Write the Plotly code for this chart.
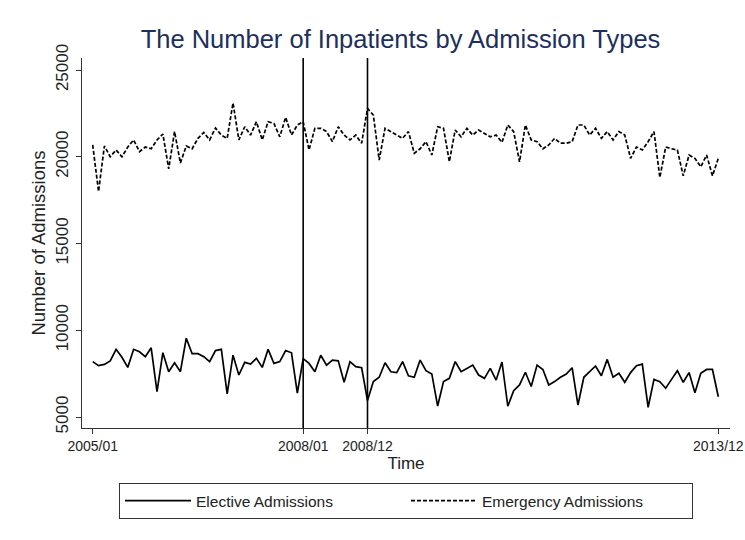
import plotly.graph_objects as go

tick_labels = ["2005/01", "2008/01", "2008/12", "2013/12"]
tick_months = [0, 36, 47, 107]
policy_months = [36, 47]
y_ticks = [5000, 10000, 15000, 20000, 25000]

elective = [8190, 7960, 8030, 8230, 8900, 8440, 7860, 8900, 8760, 8480,
            8990, 6460, 8710, 7610, 8130, 7610, 9540, 8650, 8650, 8480,
            8190, 8830, 8900, 6330, 8560, 7420, 8150, 8050, 8380, 7860,
            8900, 8090, 8190, 8830, 8700, 6370, 8370, 8090, 7610, 8560,
            7990, 8280, 8240, 7000, 8190, 7900, 7840, 5950, 7040, 7290,
            8130, 7610, 7560, 8190, 7370, 7290, 8280, 7670, 7480, 5630,
            7040, 7230, 8190, 7610, 7800, 7990, 7420, 7230, 7800, 7130,
            8170, 5620, 6520, 6850, 7580, 6760, 7990, 7740, 6850, 7040,
            7290, 7480, 7840, 5690, 7290, 7610, 7940, 7380, 8320, 7290,
            7520, 7000, 7560, 7960, 8050, 5560, 7170, 7040, 6660, 7170,
            7670, 7000, 7560, 6400, 7520, 7740, 7740, 6170]

emergency = [20680, 18000, 20620, 20000, 20390, 20000, 20560, 20970, 20290, 20560,
             20460, 20970, 21310, 19300, 21450, 19640, 20620, 20460, 21060, 21400,
             20970, 21660, 21250, 21060, 23100, 20970, 21730, 21250, 22020, 20970,
             22020, 21920, 21150, 22270, 21250, 21830, 22020, 20390, 21640, 21640,
             21450, 20870, 21730, 21250, 20970, 21250, 20780, 22790, 22400, 19810,
             21640, 21450, 21250, 21060, 21450, 20200, 20460, 20870, 20100, 21730,
             21640, 19720, 21540, 21150, 21640, 21250, 21540, 21350, 21150, 21250,
             20830, 21830, 21450, 19700, 21830, 20970, 20870, 20460, 20680, 21060,
             20780, 20780, 20870, 21830, 21830, 21250, 21640, 21060, 21450, 20970,
             21450, 21250, 19910, 20560, 20390, 20870, 21450, 18800, 20560, 20460,
             20390, 18900, 20100, 19910, 19420, 20100, 18900, 19910]

months = list(range(len(elective)))

fig = go.Figure()
fig.add_trace(go.Scatter(x=months, y=elective, mode="lines", name="Elective Admissions",
                         line=dict(color="black", width=1.7)))
fig.add_trace(go.Scatter(x=months, y=emergency, mode="lines", name="Emergency Admissions",
                         line=dict(color="black", width=1.7, dash="4px,2px")))

for m in policy_months:
    fig.add_shape(type="line", x0=m, x1=m, y0=0, y1=1, xref="x", yref="paper",
                  line=dict(color="black", width=1.6))

font_family = "Liberation Sans, Arial, sans-serif"
fig.update_layout(
    width=745, height=540,
    margin=dict(l=82, r=15, t=58, b=112),
    paper_bgcolor="white", plot_bgcolor="white",
    font=dict(family=font_family, color="#222222", size=13),
    title=dict(text="The Number of Inpatients by Admission Types",
               x=0.5376, xanchor="center", y=0.928, yanchor="middle",
               font=dict(size=25.5, color="#1e2f5c", family=font_family)),
    xaxis=dict(range=[-1.83, 109.0], tickmode="array", tickvals=tick_months,
               ticktext=tick_labels, showline=True, linecolor="#333333", linewidth=1.2,
               ticks="outside", ticklen=5, tickcolor="#333333", showgrid=False,
               zeroline=False, tickfont=dict(size=14), automargin=False,
               title=dict(text="Time", font=dict(size=17), standoff=2)),
    yaxis=dict(range=[4366, 25692], tickmode="array", tickvals=y_ticks,
               ticktext=[str(v) for v in y_ticks],
               showline=True, linecolor="#333333", linewidth=1.2, ticks="outside",
               ticklen=5, tickcolor="#333333", showgrid=False, zeroline=False,
               tickangle=-90, tickfont=dict(size=17), automargin=False,
               ticklabelstandoff=1,
               title=dict(text="Number of Admissions", font=dict(size=18.5), standoff=2)),
    legend=dict(orientation="h", x=0.5, xanchor="center", y=-0.149, yanchor="top",
                bordercolor="#333333", borderwidth=1, font=dict(size=15.5),
                itemwidth=66, entrywidth=205, bgcolor="white"),
    showlegend=True,
)

fig.write_html("out.html", config={"displayModeBar": False},
               post_script="document.body.style.margin='0';document.body.style.overflow='hidden';")
